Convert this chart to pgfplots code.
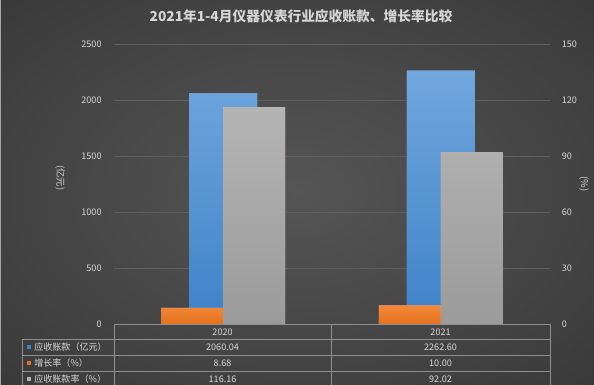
\documentclass[border=0pt]{standalone}
\usepackage{pgfplots}
\pgfplotsset{compat=1.18}
\usepackage{fontspec}
\setmainfont{Noto Sans CJK SC}
\definecolor{bgin}{HTML}{555555}
\definecolor{bgmid}{HTML}{3E3E3E}
\definecolor{bgout}{HTML}{232323}
\definecolor{gridc}{HTML}{5E5E5E}
\definecolor{txt}{HTML}{D9D9D9}
\definecolor{tline}{HTML}{8F8F8F}
\definecolor{bluetop}{HTML}{70A7DE}
\definecolor{bluebot}{HTML}{3E82C7}
\definecolor{orgtop}{HTML}{F38A3A}
\definecolor{orgbot}{HTML}{E5721E}
\definecolor{graytop}{HTML}{B4B4B4}
\definecolor{graybot}{HTML}{9B9B9B}
\pgfdeclareradialshading{bgshade}{\pgfpoint{0bp}{0bp}}{color(0bp)=(bgin); color(30bp)=(bgmid); color(60bp)=(bgout); color(75bp)=(bgout)}
\begin{document}
\begin{tikzpicture}
\path[use as bounding box] (0,0) rectangle (445.5pt,-288.75pt);
\shade[shading=bgshade] (0,0) rectangle (445.5pt,-288.75pt);
\draw[color=tline!80!white, line width=0.75pt] (0.375pt,0) -- (0.375pt,-288.75pt);
\node[text=txt!110, font=\fontsize{10.3}{12}\selectfont\bfseries] at (225.75pt,-12.5pt) {2021年1-4月仪器仪表行业应收账款、增长率比较};
% primary axis
\begin{axis}[
  at={(85.7pt,-243pt)}, anchor=south west,
  scale only axis, width=326.6pt, height=210pt,
  xmin=-0.5, xmax=1.5, ymin=0, ymax=2500,
  ytick={0,500,1000,1500,2000,2500}, xtick=\empty,
  ymajorgrids, grid style={draw=gridc, line width=0.6pt},
  axis line style={draw=none}, major tick length=0pt,
  ybar, bar width=51pt,
  /pgf/number format/assume math mode=true,
  /pgf/number format/1000 sep={},
  scaled y ticks=false,
  yticklabel style={font=\fontsize{6.8}{8}\selectfont, text=txt, xshift=-6pt},
]
\addplot+[draw=none, top color=bluetop, bottom color=bluebot] coordinates {(0,2060.04) (1,2262.60)};
\end{axis}
% secondary axis
\begin{axis}[
  at={(85.7pt,-243pt)}, anchor=south west,
  scale only axis, width=326.6pt, height=210pt,
  xmin=-0.5, xmax=1.5, ymin=0, ymax=150,
  ytick={0,30,60,90,120,150}, xtick=\empty,
  axis y line*=right, axis x line=none,
  axis line style={draw=none}, major tick length=0pt,
  ybar=0pt, bar width=46.5pt,
  /pgf/number format/assume math mode=true,
  yticklabel style={font=\fontsize{6.8}{8}\selectfont, text=txt, xshift=5.6pt},
]
\addplot+[draw=none, top color=orgtop, bottom color=orgbot] coordinates {(0,8.68) (1,10.00)};
\addplot+[draw=none, top color=graytop, bottom color=graybot] coordinates {(0,116.16) (1,92.02)};
\end{axis}
% axis titles
\node[rotate=-90, text=txt, font=\fontsize{7}{8}\selectfont] at (45pt,-133.5pt) {(亿元)};
\node[rotate=-90, text=txt, font=\fontsize{7}{8}\selectfont] at (438pt,-138pt) {(\%)};
% data table
\begin{scope}[draw=tline, line width=0.6pt]
\draw (85.7pt,-243.2pt) -- (412.5pt,-243.2pt);
\draw (17pt,-254.6pt) -- (412.5pt,-254.6pt);
\draw (17pt,-266.25pt) -- (412.5pt,-266.25pt);
\draw (17pt,-278.25pt) -- (412.5pt,-278.25pt);
\draw (17pt,-254.6pt) -- (17pt,-290pt);
\draw (85.7pt,-243.2pt) -- (85.7pt,-290pt);
\draw (248.25pt,-243.2pt) -- (248.25pt,-290pt);
\draw (412.5pt,-243.2pt) -- (412.5pt,-290pt);
\end{scope}
\begin{scope}[every node/.style={text=txt, font=\fontsize{6.8}{8}\selectfont, inner sep=0pt}]
\node at (166.9pt,-248.9pt) {2020};
\node at (330.4pt,-248.9pt) {2021};
\node at (166.9pt,-260.4pt) {2060.04};
\node at (330.4pt,-260.4pt) {2262.60};
\node at (166.9pt,-272.25pt) {8.68};
\node at (330.4pt,-272.25pt) {10.00};
\node at (166.9pt,-284.1pt) {116.16};
\node at (330.4pt,-284.1pt) {92.02};
\node[anchor=west] at (25.5pt,-260.4pt) {应收账款（亿元）};
\node[anchor=west] at (25.5pt,-272.25pt) {增长率（\%）};
\node[anchor=west] at (25.5pt,-284.1pt) {应收账款率（\%）};
\end{scope}
\fill[bluebot] (20pt,-258.9pt) rectangle (23pt,-261.9pt);
\fill[orgbot] (20pt,-270.75pt) rectangle (23pt,-273.75pt);
\fill[graytop] (20pt,-282.6pt) rectangle (23pt,-285.6pt);
\end{tikzpicture}
\end{document}
